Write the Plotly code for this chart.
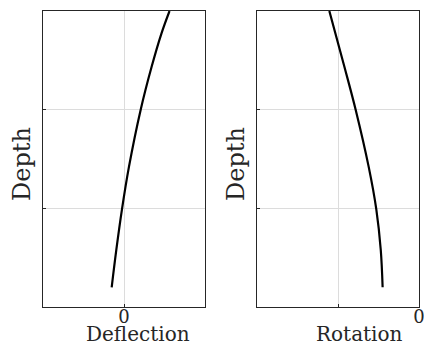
import plotly.graph_objects as go

depth = [0.2, 0.578, 0.99, 1.42, 2.0, 2.435, 2.774, 3.0]
deflection = [-0.152, -0.095, -0.025, 0.061, 0.206, 0.341, 0.463, 0.562]

depth_rot = [0.2, 0.578, 0.99, 1.42, 2.0, 2.435, 3.0]
rotation = [-0.449, -0.472, -0.527, -0.621, -0.782, -0.921, -1.107]

W, H = 424, 346
TXT = "#262626"
GRID = "#dcdcdc"
FONT = "DejaVu Serif"

fig = go.Figure()
fig.add_trace(go.Scatter(x=deflection, y=depth, mode="lines",
                         line=dict(color="black", width=2.2, shape="spline", smoothing=1.0),
                         xaxis="x", yaxis="y", showlegend=False))
fig.add_trace(go.Scatter(x=rotation, y=depth_rot, mode="lines",
                         line=dict(color="black", width=2.2, shape="spline", smoothing=1.0),
                         xaxis="x2", yaxis="y2", showlegend=False))

ydom = [(H - 307) / H, (H - 11) / H]
common_ax = dict(showline=True, linecolor=TXT, linewidth=1, mirror=True, showgrid=True, gridcolor=GRID,
                 gridwidth=1, zeroline=False, ticks="inside", ticklen=3, tickcolor=TXT, automargin=False,
                 tickfont=dict(family=FONT, size=18, color=TXT))

fig.update_layout(
    width=W, height=H, margin=dict(l=0, r=0, t=0, b=0),
    paper_bgcolor="white", plot_bgcolor="white",
    xaxis=dict(domain=[43 / W, 205 / W], range=[-1, 1], tickvals=[0], ticktext=["0"], anchor="y",
               ticklabelstandoff=-7, ticklabeloverflow="allow", **common_ax),
    yaxis=dict(domain=ydom, range=[0, 3], tickvals=[1, 2], showticklabels=False, anchor="x", **common_ax),
    xaxis2=dict(domain=[257 / W, 419 / W], range=[-2, 0], tickvals=[-1, 0], ticktext=["", "0"], anchor="y2",
                ticklabelstandoff=-7, ticklabeloverflow="allow", **common_ax),
    yaxis2=dict(domain=ydom, range=[0, 3], tickvals=[1, 2], showticklabels=False, anchor="x2", **common_ax),
)

xlab = dict(family=FONT, size=20, color=TXT)
ylab = dict(family=FONT, size=24, color=TXT)
fig.add_annotation(text="Deflection", x=138 / W, y=0, xref="paper", yref="paper", yshift=-2,
                   showarrow=False, font=xlab, xanchor="center", yanchor="bottom")
fig.add_annotation(text="Rotation", x=359 / W, y=0, xref="paper", yref="paper", yshift=-2,
                   showarrow=False, font=xlab, xanchor="center", yanchor="bottom")
fig.add_annotation(text="Depth", x=22 / W, y=(H - 164) / H, xref="paper", yref="paper",
                   showarrow=False, font=ylab, textangle=-90, xanchor="center", yanchor="middle")
fig.add_annotation(text="Depth", x=236 / W, y=(H - 164) / H, xref="paper", yref="paper",
                   showarrow=False, font=ylab, textangle=-90, xanchor="center", yanchor="middle")

fig.write_html("out.html")
